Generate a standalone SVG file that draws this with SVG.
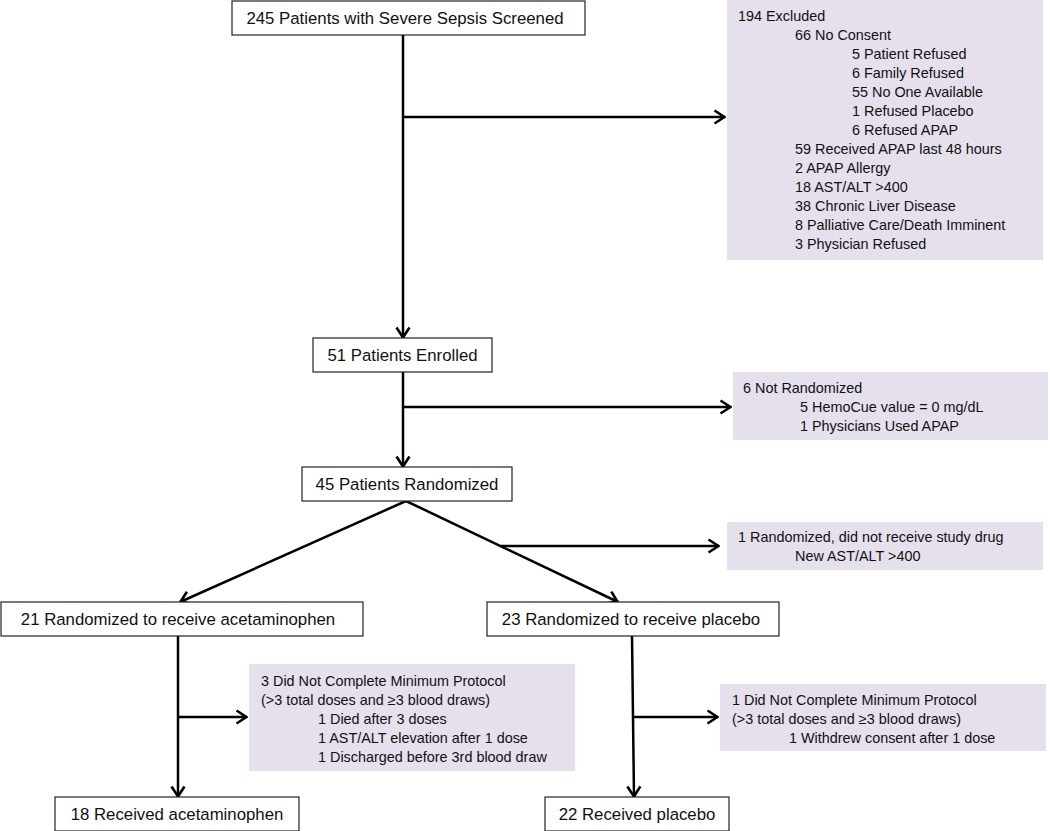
<svg xmlns="http://www.w3.org/2000/svg" width="1050" height="831" viewBox="0 0 1050 831">
<style>
.box{fill:#fff;stroke:#222;stroke-width:1.2}
.side{fill:#e5e0ec;stroke:none}
.main{font-family:"Liberation Sans",Arial,sans-serif;font-size:16.8px;fill:#111}
.small{font-family:"Liberation Sans",Arial,sans-serif;font-size:14.4px;fill:#111}
.ln{stroke:#000;stroke-width:2.5;fill:none}
</style>
<defs>
<marker id="ah" viewBox="0 0 13 16" refX="12" refY="8" markerWidth="13" markerHeight="16" markerUnits="userSpaceOnUse" orient="auto">
<path d="M1.5,1.5 L11.5,8 L1.5,14.5" fill="none" stroke="#000" stroke-width="2.6"/>
</marker>
</defs>
<rect width="1050" height="831" fill="#fff"/>
<g id="connectors">
<line class="ln" x1="403" y1="35" x2="403" y2="338" marker-end="url(#ah)"/>
<line class="ln" x1="403" y1="117" x2="725" y2="117" marker-end="url(#ah)"/>
<line class="ln" x1="403" y1="372" x2="403" y2="467" marker-end="url(#ah)"/>
<line class="ln" x1="403" y1="407" x2="731" y2="407" marker-end="url(#ah)"/>
<line class="ln" x1="406" y1="501" x2="180" y2="602" marker-end="url(#ah)"/>
<line class="ln" x1="406" y1="501" x2="618" y2="602" marker-end="url(#ah)"/>
<line class="ln" x1="501" y1="546" x2="719" y2="546" marker-end="url(#ah)"/>
<line class="ln" x1="178" y1="636" x2="178" y2="797" marker-end="url(#ah)"/>
<line class="ln" x1="178" y1="717" x2="247" y2="717" marker-end="url(#ah)"/>
<line class="ln" x1="632" y1="636" x2="634" y2="797" marker-end="url(#ah)"/>
<line class="ln" x1="633" y1="717" x2="718" y2="717" marker-end="url(#ah)"/>
</g>
<g id="screened">
<rect class="box" x="232" y="1" width="353" height="34"/>
<text class="main" x="405" y="24" text-anchor="middle">245 Patients with Severe Sepsis Screened</text>
</g>
<g id="excluded">
<rect class="side" x="727" y="0" width="316" height="260"/>
<text class="small" x="738" y="21">194 Excluded</text>
<text class="small" x="795" y="40">66 No Consent</text>
<text class="small" x="852" y="59">5 Patient Refused</text>
<text class="small" x="852" y="78">6 Family Refused</text>
<text class="small" x="852" y="97">55 No One Available</text>
<text class="small" x="852" y="116">1 Refused Placebo</text>
<text class="small" x="852" y="135">6 Refused APAP</text>
<text class="small" x="795" y="154">59 Received APAP last 48 hours</text>
<text class="small" x="795" y="173">2 APAP Allergy</text>
<text class="small" x="795" y="192">18 AST/ALT &gt;400</text>
<text class="small" x="795" y="211">38 Chronic Liver Disease</text>
<text class="small" x="795" y="230">8 Palliative Care/Death Imminent</text>
<text class="small" x="795" y="249">3 Physician Refused</text>
</g>
<g id="enrolled">
<rect class="box" x="313" y="338" width="179" height="34"/>
<text class="main" x="402.5" y="361" text-anchor="middle">51 Patients Enrolled</text>
</g>
<g id="notrandomized">
<rect class="side" x="733" y="372" width="315" height="68"/>
<text class="small" x="743" y="393">6 Not Randomized</text>
<text class="small" x="800" y="412">5 HemoCue value = 0 mg/dL</text>
<text class="small" x="800" y="431">1 Physicians Used APAP</text>
</g>
<g id="randomized">
<rect class="box" x="302" y="467" width="210" height="34"/>
<text class="main" x="407" y="490" text-anchor="middle">45 Patients Randomized</text>
</g>
<g id="nodrug">
<rect class="side" x="727" y="522" width="316" height="48"/>
<text class="small" x="738" y="542">1 Randomized, did not receive study drug</text>
<text class="small" x="795" y="561">New AST/ALT &gt;400</text>
</g>
<g id="armAPAP">
<rect class="box" x="1" y="602" width="362" height="34"/>
<text class="main" x="178" y="625" text-anchor="middle">21 Randomized to receive acetaminophen</text>
</g>
<g id="armPlacebo">
<rect class="box" x="487" y="602" width="292" height="34"/>
<text class="main" x="631" y="625" text-anchor="middle">23 Randomized to receive placebo</text>
</g>
<g id="apapIncomplete">
<rect class="side" x="249" y="664" width="326" height="107"/>
<text class="small" x="261" y="686">3 Did Not Complete Minimum Protocol</text>
<text class="small" x="261" y="705">(&gt;3 total doses and ≥3 blood draws)</text>
<text class="small" x="318" y="724">1 Died after 3 doses</text>
<text class="small" x="318" y="743">1 AST/ALT elevation after 1 dose</text>
<text class="small" x="318" y="762">1 Discharged before 3rd blood draw</text>
</g>
<g id="placeboIncomplete">
<rect class="side" x="720" y="684" width="326" height="67"/>
<text class="small" x="732" y="705">1 Did Not Complete Minimum Protocol</text>
<text class="small" x="732" y="724">(&gt;3 total doses and ≥3 blood draws)</text>
<text class="small" x="789" y="743">1 Withdrew consent after 1 dose</text>
</g>
<g id="receivedAPAP">
<rect class="box" x="55" y="797" width="244" height="34"/>
<text class="main" x="177" y="820" text-anchor="middle">18 Received acetaminophen</text>
</g>
<g id="receivedPlacebo">
<rect class="box" x="545" y="797" width="184" height="34"/>
<text class="main" x="637" y="820" text-anchor="middle">22 Received placebo</text>
</g>
</svg>
